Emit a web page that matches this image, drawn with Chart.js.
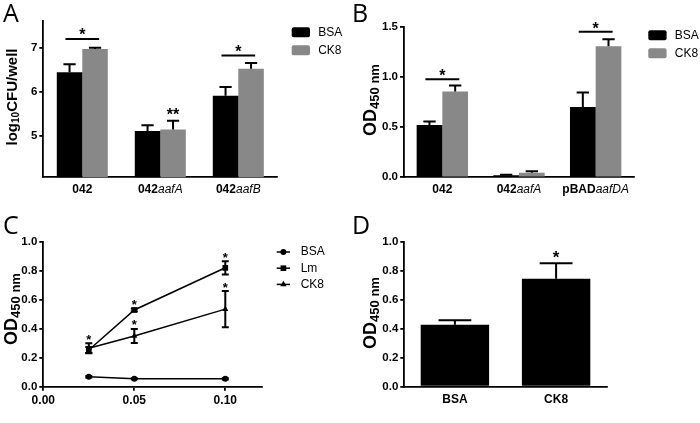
<!DOCTYPE html>
<html>
<head>
<meta charset="utf-8">
<script src="https://cdn.jsdelivr.net/npm/chart.js"></script>
<style>
  body { margin: 0; background: #fff; }
  #fig { position: relative; width: 700px; height: 423px; overflow: hidden; font-family: "Liberation Sans", Arial, sans-serif; }
  canvas { position: absolute; }
  .letter { position: absolute; font-family: "Open Sans", sans-serif; font-size: 25px; line-height: 1; }
  .ytitle { position: absolute; font-weight: bold; white-space: nowrap; line-height: 1; transform: translate(-50%, -50%) rotate(-90deg); }
  .ytitle.log { font-size: 15px; }
  .ytitle.log sub { font-size: 10px; vertical-align: -0.2em; }
  .ytitle.od { font-size: 18px; }
  .ytitle.od sub { font-size: 13px; vertical-align: -0.3em; }
</style>
</head>
<body>
<div id="fig">
  <canvas id="chartA" width="350" height="211" style="left:0;top:0"></canvas>
  <canvas id="chartB" width="350" height="211" style="left:350px;top:0"></canvas>
  <canvas id="chartC" width="350" height="212" style="left:0;top:211px"></canvas>
  <canvas id="chartD" width="350" height="212" style="left:350px;top:211px"></canvas>

  <div class="letter" style="left:3px;top:0">A</div>
  <div class="letter" style="left:352px;top:0">B</div>
  <div class="letter" style="left:3px;top:212px">C</div>
  <div class="letter" style="left:352px;top:212px">D</div>

  <div class="ytitle log" style="left:12px;top:97px">log<sub>10</sub>CFU/well</div>
  <div class="ytitle od" style="left:371px;top:100px">OD<sub>450 nm</sub></div>
  <div class="ytitle od" style="left:12px;top:309px">OD<sub>450 nm</sub></div>
  <div class="ytitle od" style="left:371px;top:313px">OD<sub>450 nm</sub></div>
</div>

<script>
// Panel A - adherence, log10 CFU/well
const groupsA = ['042', '042aafA', '042aafB'];
const bsaA = [6.45, 5.11, 5.91];
const bsaErrA = [0.18, 0.13, 0.20];
const ck8A = [6.98, 5.14, 6.53];
const ck8ErrA = [0.03, 0.20, 0.13];
const sigLineA = [7.21, null, 6.83];
const starsA = ['*', '**', '*'];
const yTicksA = [5, 6, 7];

// Panel B - ELISA, OD450
const groupsB = ['042', '042aafA', 'pBADaafDA'];
const bsaB = [0.52, 0.02, 0.70];
const bsaErrB = [0.035, 0.005, 0.145];
const ck8B = [0.855, 0.045, 1.305];
const ck8ErrB = [0.06, 0.015, 0.07];
const sigLineB = [0.977, null, 1.45];
const starsB = ['*', null, '*'];
const yTicksB = [0, 0.5, 1.0, 1.5];

// Panel C - dose response
const doseC = [0.025, 0.05, 0.10];
const bsaC = [0.069, 0.055, 0.054];
const bsaErrC = [0.005, 0.004, 0.004];
const lmC = [0.253, 0.529, 0.82];
const lmErrC = [0.02, 0.01, 0.046];
const ck8C = [0.265, 0.35, 0.535];
const ck8ErrC = [0.035, 0.048, 0.125];
const starLmC = [false, true, true];
const starCk8C = [true, true, true];
const xTicksC = [0, 0.05, 0.10];
const yTicksC = [0, 0.2, 0.4, 0.6, 0.8, 1.0];

// Panel D
const groupsD = ['BSA', 'CK8'];
const valD = [0.428, 0.745];
const errD = [0.03, 0.106];
const starsD = [null, '*'];
const yTicksD = [0, 0.2, 0.4, 0.6, 0.8, 1.0];

const FONT = '"Liberation Sans", Arial, sans-serif';
Chart.defaults.font.family = FONT;
Chart.defaults.color = '#000';
Chart.defaults.animation = false;

function yAxis(min, max, ticks, width, digits) {
    return {
        min: min,
        max: max,
        afterFit: s => { s.width = width; },
        afterBuildTicks: s => { s.ticks = ticks.map(v => ({ value: v })); },
        grid: { display: true, drawOnChartArea: false, drawTicks: true, tickLength: 4, color: '#000', lineWidth: 1.8 },
        border: { display: true, color: '#000', width: 1.8 },
        ticks: { font: { size: 11.5, weight: 'bold' }, padding: 2, callback: v => digits ? v.toFixed(digits) : String(v) }
    };
}

function barX(height) {
    return {
        afterFit: s => { s.height = height; },
        grid: { display: true, drawOnChartArea: false, drawTicks: false, color: '#000', lineWidth: 1.8 },
        border: { display: true, color: '#000', width: 1.8 },
        ticks: { display: false }
    };
}

function drawStar(ctx, txt, x, cy, size) {
    ctx.font = 'bold ' + size + 'px ' + FONT;
    ctx.textAlign = 'center';
    ctx.textBaseline = 'alphabetic';
    const m = ctx.measureText(txt);
    ctx.fillStyle = '#000';
    ctx.fillText(txt, x, cy + (m.actualBoundingBoxAscent - m.actualBoundingBoxDescent) / 2);
}

function marker(ctx, style, x, y, r) {
    ctx.beginPath();
    if (style === 'circle') {
        ctx.arc(x, y, r, 0, 2 * Math.PI);
    } else if (style === 'rect') {
        const s = r * Math.SQRT1_2;
        ctx.rect(x - s, y - s, 2 * s, 2 * s);
    } else {
        ctx.moveTo(x, y - r);
        ctx.lineTo(x + r * 0.866, y + r * 0.5);
        ctx.lineTo(x - r * 0.866, y + r * 0.5);
        ctx.closePath();
    }
    ctx.fill();
}

// group labels like "042aafA": strain in bold, gene in italic
function groupLabels(labels, dy) {
    return {
        id: 'groupLabels',
        afterDraw(chart) {
            const ctx = chart.ctx, xs = chart.scales.x;
            const y = chart.chartArea.bottom + dy;
            const bold = 'bold 12px ' + FONT, ital = 'italic 12px ' + FONT;
            ctx.save();
            ctx.fillStyle = '#000';
            ctx.textBaseline = 'middle';
            ctx.textAlign = 'left';
            labels.forEach((lab, i) => {
                const m = lab.match(/^(042|pBAD)(.+)$/);
                const head = m ? m[1] : lab;
                const tail = m ? m[2] : '';
                ctx.font = bold; const w1 = ctx.measureText(head).width;
                ctx.font = ital; const w2 = ctx.measureText(tail).width;
                const x0 = xs.getPixelForValue(i) - (w1 + w2) / 2;
                ctx.font = bold; ctx.fillText(head, x0, y);
                ctx.font = ital; ctx.fillText(tail, x0 + w1, y);
            });
            ctx.restore();
        }
    };
}

// upward error bars on bars
const barErrors = {
    id: 'barErrors',
    afterDatasetsDraw(chart) {
        const ctx = chart.ctx, ys = chart.scales.y;
        ctx.save();
        ctx.strokeStyle = '#000';
        ctx.lineWidth = 2;
        chart.data.datasets.forEach((ds, di) => {
            chart.getDatasetMeta(di).data.forEach((el, i) => {
                const top = ys.getPixelForValue(ds.data[i] + ds.errors[i]);
                const half = el.width * 0.24;
                ctx.beginPath();
                ctx.moveTo(el.x, el.y);
                ctx.lineTo(el.x, top);
                ctx.moveTo(el.x - half, top);
                ctx.lineTo(el.x + half, top);
                ctx.stroke();
            });
        });
        ctx.restore();
    }
};

function sigMarks(lines, stars, size, lineGap, barGap) {
    return {
        id: 'sigMarks',
        afterDatasetsDraw(chart) {
            const ctx = chart.ctx, ys = chart.scales.y;
            const last = chart.data.datasets.length - 1;
            const m0 = chart.getDatasetMeta(0), m1 = chart.getDatasetMeta(last);
            const ds = chart.data.datasets[last];
            ctx.save();
            ctx.strokeStyle = '#000';
            ctx.lineWidth = 2;
            stars.forEach((st, i) => {
                if (!st) return;
                const a = m0.data[i], b = m1.data[i];
                let cx, cy;
                if (lines && lines[i] != null) {
                    cx = (a.x + b.x) / 2;
                    const ly = ys.getPixelForValue(lines[i]);
                    const half = a.width * 0.66;
                    ctx.beginPath();
                    ctx.moveTo(cx - half, ly);
                    ctx.lineTo(cx + half, ly);
                    ctx.stroke();
                    cy = ly - lineGap;
                } else {
                    cx = b.x;
                    cy = ys.getPixelForValue(ds.data[i] + ds.errors[i]) - barGap;
                }
                drawStar(ctx, st, cx, cy, size);
            });
            ctx.restore();
        }
    };
}

function boxLegend(x, y, gap) {
    return {
        id: 'boxLegend',
        afterDraw(chart) {
            const ctx = chart.ctx;
            ctx.save();
            chart.data.datasets.forEach((ds, i) => {
                const cy = y + i * gap;
                ctx.fillStyle = ds.backgroundColor;
                ctx.beginPath();
                ctx.roundRect(x, cy - 5, 18.3, 10, 2);
                ctx.fill();
                ctx.fillStyle = '#000';
                ctx.font = '12px ' + FONT;
                ctx.textBaseline = 'middle';
                ctx.textAlign = 'left';
                ctx.fillText(ds.label, x + 26.5, cy);
            });
            ctx.restore();
        }
    };
}

function barChart(id, labels, sets, yScale, pad, xHeight, catPct, extra) {
    return new Chart(document.getElementById(id), {
        type: 'bar',
        data: {
            labels: labels,
            datasets: sets.map(s => ({
                label: s.label,
                data: s.data,
                errors: s.errors,
                backgroundColor: s.color,
                borderWidth: 0,
                categoryPercentage: catPct,
                barPercentage: 1.0
            }))
        },
        options: {
            responsive: false,
            layout: { padding: pad },
            plugins: { legend: { display: false }, tooltip: { enabled: false } },
            scales: { x: barX(xHeight), y: yScale }
        },
        plugins: [barErrors, groupLabels(labels, 12.5)].concat(extra)
    });
}

// A
barChart('chartA', groupsA, [
    { label: 'BSA', data: bsaA, errors: bsaErrA, color: '#000000' },
    { label: 'CK8', data: ck8A, errors: ck8ErrA, color: '#888888' }
], yAxis(4.05, 7.62, yTicksA, 43.3, 0), { left: 0, top: 21, right: 72.7, bottom: 0 }, 33.7, 0.654,
    [sigMarks(sigLineA, starsA, 16, 7, 9), boxLegend(291.7, 32.3, 18)]);

// B
barChart('chartB', groupsB, [
    { label: 'BSA', data: bsaB, errors: bsaErrB, color: '#000000' },
    { label: 'CK8', data: ck8B, errors: ck8ErrB, color: '#888888' }
], yAxis(0, 1.5, yTicksB, 54, 1), { left: 0, top: 26.7, right: 66, bottom: 0 }, 33.7, 0.67,
    [sigMarks(sigLineB, starsB, 16, 6.5, 9), boxLegend(298.3, 35.3, 18)]);

// D
barChart('chartD', groupsD, [
    { label: 'CK8', data: valD, errors: errD, color: '#000000' }
], yAxis(0, 1.0, yTicksD, 54.3, 1), { left: 0, top: 30.7, right: 93.3, bottom: 0 }, 36.3, 0.676,
    [sigMarks(null, starsD, 17, 0, 8.5)]);

// C - lines with symmetric error bars
const seriesC = [
    { label: 'BSA', y: bsaC, err: bsaErrC, stars: null, style: 'circle', r: 3 },
    { label: 'Lm', y: lmC, err: lmErrC, stars: starLmC, style: 'rect', r: 4 },
    { label: 'CK8', y: ck8C, err: ck8ErrC, stars: starCk8C, style: 'triangle', r: 3.6 }
];

const lineErrors = {
    id: 'lineErrors',
    afterDatasetsDraw(chart) {
        const ctx = chart.ctx, ys = chart.scales.y;
        ctx.save();
        ctx.strokeStyle = '#000';
        ctx.lineWidth = 2;
        seriesC.forEach((s, di) => {
            chart.getDatasetMeta(di).data.forEach((el, i) => {
                const hi = ys.getPixelForValue(s.y[i] + s.err[i]);
                const lo = ys.getPixelForValue(s.y[i] - s.err[i]);
                ctx.beginPath();
                ctx.moveTo(el.x, lo); ctx.lineTo(el.x, hi);
                ctx.moveTo(el.x - 3.5, hi); ctx.lineTo(el.x + 3.5, hi);
                ctx.moveTo(el.x - 3.5, lo); ctx.lineTo(el.x + 3.5, lo);
                ctx.stroke();
                if (s.stars && s.stars[i]) drawStar(ctx, '*', el.x, hi - 6, 13);
            });
        });
        ctx.restore();
    }
};

const lineLegend = {
    id: 'lineLegend',
    afterDraw(chart) {
        const ctx = chart.ctx;
        ctx.save();
        seriesC.forEach((s, i) => {
            const x = 276.7, y = 41 + i * 16.2;
            ctx.strokeStyle = '#000';
            ctx.fillStyle = '#000';
            ctx.lineWidth = 1.5;
            ctx.beginPath();
            ctx.moveTo(x, y); ctx.lineTo(x + 13.3, y);
            ctx.stroke();
            marker(ctx, s.style, x + 6.7, y, s.r);
            ctx.font = '12px ' + FONT;
            ctx.textBaseline = 'middle';
            ctx.textAlign = 'left';
            ctx.fillText(s.label, x + 24, y);
        });
        ctx.restore();
    }
};

new Chart(document.getElementById('chartC'), {
    type: 'line',
    data: {
        datasets: seriesC.map(s => ({
            label: s.label,
            data: doseC.map((d, i) => ({ x: d, y: s.y[i] })),
            borderColor: '#000',
            borderWidth: 1.5,
            backgroundColor: '#000',
            pointBackgroundColor: '#000',
            pointBorderWidth: 0,
            pointStyle: s.style,
            pointRadius: s.r,
            tension: 0
        }))
    },
    options: {
        responsive: false,
        layout: { padding: { left: 0, top: 30.7, right: 88.3, bottom: 0 } },
        plugins: { legend: { display: false }, tooltip: { enabled: false } },
        scales: {
            x: {
                type: 'linear',
                min: 0,
                max: 0.12,
                afterFit: s => { s.height = 36.3; },
                afterBuildTicks: s => { s.ticks = xTicksC.map(v => ({ value: v })); },
                grid: { display: true, drawOnChartArea: false, drawTicks: true, tickLength: 4, color: '#000', lineWidth: 1.8 },
                border: { display: true, color: '#000', width: 1.8 },
                ticks: { font: { size: 12, weight: 'bold' }, padding: 3, maxRotation: 0, callback: v => v.toFixed(2) }
            },
            y: yAxis(0, 1.0, yTicksC, 43.3, 1)
        }
    },
    plugins: [lineErrors, lineLegend]
});
</script>
</body>
</html>
